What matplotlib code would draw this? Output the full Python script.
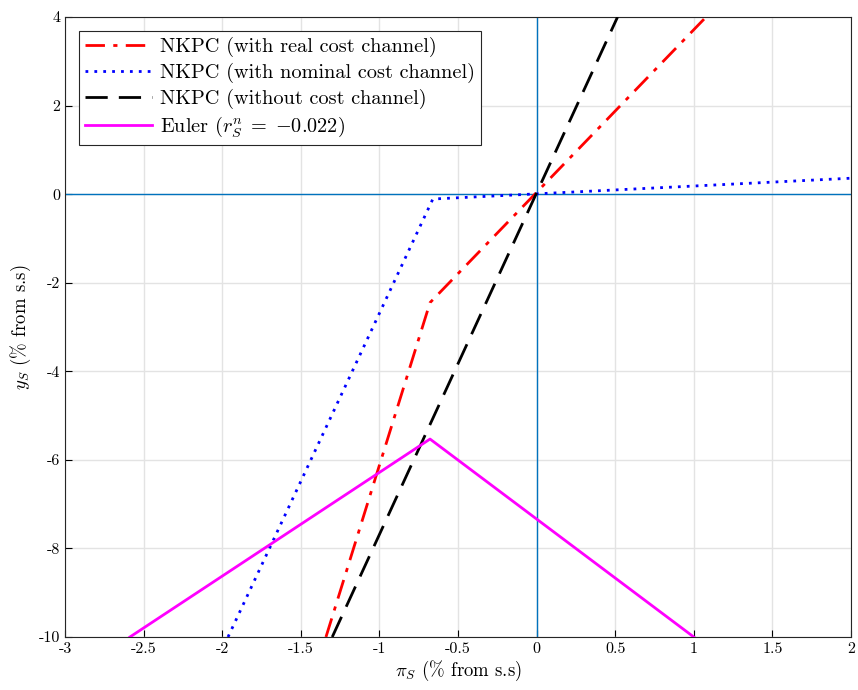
import numpy as np
import matplotlib
matplotlib.use('Agg')
import matplotlib.pyplot as plt

plt.rcParams['font.family'] = 'serif'
plt.rcParams['font.serif'] = ['cmr10']
plt.rcParams['mathtext.fontset'] = 'cm'
plt.rcParams['axes.unicode_minus'] = False
plt.rcParams['axes.formatter.use_mathtext'] = False

# curves
real_x = [-1.34, -0.678, 1.078]
real_y = [-10, -2.45, 4]
nominal_x = [-1.963, -0.66, 2.0]
nominal_y = [-10, -0.11, 0.36]
nocost_x = [-1.30, 0.515]
nocost_y = [-10, 4]
euler_x = [-2.587, -0.678, 1.0]
euler_y = [-10, -5.53, -10]

xticks = np.arange(-3, 2.01, 0.5)
yticks = np.arange(-10, 4.01, 2)

fig = plt.figure(figsize=(8.58, 6.9), dpi=100)
ax = fig.add_axes([65/858, 53/690, 786/858, 620/690])

ax.axhline(0, color='#0072BD', lw=1.0, zorder=1)
ax.axvline(0, color='#0072BD', lw=1.0, zorder=1)

ax.plot(real_x, real_y, color='red', lw=2, dashes=[7, 3, 1.5, 3],
        label='NKPC (with real cost channel)', zorder=3)
ax.plot(nominal_x, nominal_y, color='blue', lw=2, linestyle=(0, (1, 2.2)),
        label='NKPC (with nominal cost channel)', zorder=3)
ax.plot(nocost_x, nocost_y, color='black', lw=2, dashes=[8, 4],
        label='NKPC (without cost channel)', zorder=3)
ax.plot(euler_x, euler_y, color='magenta', lw=2,
        label=r'Euler ($r_S^n \;=\; {-}0.022$)', zorder=3)

ax.set_xlim(-3, 2)
ax.set_ylim(-10, 4)
ax.set_xticks(xticks)
ax.set_xticklabels(['%g' % v for v in xticks])
ax.set_yticks(yticks)
ax.set_yticklabels(['%g' % v for v in yticks])
ax.tick_params(direction='in', labelsize=11.5, length=5, width=0.8)
ax.grid(True, color='#e3e3e3', lw=1)
ax.set_axisbelow(True)
for s in ax.spines.values():
    s.set_linewidth(0.8)
    s.set_color('#262626')

ax.set_xlabel(r'$\pi_S$ ($\%$ from s.s)', fontsize=13.5, labelpad=2)
ax.set_ylabel(r'$y_S$ ($\%$ from s.s)', fontsize=13.5, labelpad=4)

leg = ax.legend(loc='upper left', fontsize=14.6, fancybox=False, framealpha=1,
                edgecolor='#262626', borderaxespad=0.7, handlelength=3.3,
                labelspacing=0.28, borderpad=0.3, handletextpad=0.4)
leg.get_frame().set_linewidth(0.8)

fig.savefig('out.png', dpi=100)
